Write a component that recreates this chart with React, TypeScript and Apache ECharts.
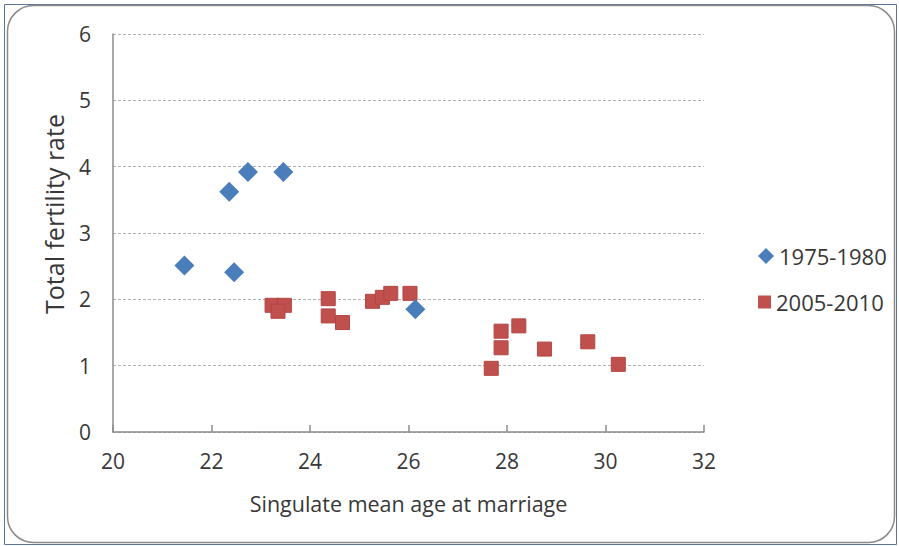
import React, { useEffect, useRef } from "react";
import * as echarts from "echarts";

// Singulate mean age at marriage (x) vs total fertility rate (y)
const period1Name = "1975-1980";
const period1Ages = [21.45, 22.36, 22.74, 23.46, 22.46, 26.14];
const period1Tfr = [2.51, 3.62, 3.92, 3.92, 2.41, 1.85];

const period2Name = "2005-2010";
const period2Ages = [23.23, 23.48, 23.35, 24.37, 24.37, 24.66, 25.27, 25.47, 25.64, 26.03, 27.88, 28.24, 27.88, 27.68, 28.76, 29.64, 30.26];
const period2Tfr = [1.91, 1.91, 1.82, 2.01, 1.75, 1.65, 1.97, 2.03, 2.09, 2.09, 1.52, 1.6, 1.27, 0.96, 1.25, 1.36, 1.02];

const xTitle = "Singulate mean age at marriage";
const yTitle = "Total fertility rate";

const FONT = "'Open Sans', 'Noto Sans', sans-serif";
const TEXT = "#383838";
const BLUE = "#4a7ebb";
const RED = "#c0504d";

const zip = (xs: number[], ys: number[]) => xs.map((x, i) => [x, ys[i]]);

const legendBase = {
  orient: "vertical",
  left: 753,
  textStyle: { fontSize: 22, color: TEXT, fontFamily: FONT },
};

export default function App() {
  const ref = useRef<HTMLDivElement>(null);

  useEffect(() => {
    if (!ref.current) return;
    const chart = echarts.init(ref.current, undefined, { renderer: "svg" });
    chart.setOption({
      animation: false,
      backgroundColor: "#ffffff",
      textStyle: { fontFamily: FONT },
      grid: { left: 113, right: 195, top: 34, bottom: 114 },
      xAxis: {
        type: "value",
        min: 20,
        max: 32,
        interval: 2,
        name: xTitle,
        nameLocation: "middle",
        nameGap: 60,
        nameTextStyle: { fontSize: 21.5, color: TEXT, fontFamily: FONT },
        axisLine: { show: true, onZero: false, lineStyle: { color: "#8c8c8c", width: 1.5 } },
        axisTick: { show: true, inside: true, length: 7, lineStyle: { color: "#8c8c8c", width: 1.5 } },
        axisLabel: { fontSize: 21, color: TEXT, margin: 18, fontFamily: FONT },
        splitLine: { show: false },
      },
      yAxis: {
        type: "value",
        min: 0,
        max: 6,
        interval: 1,
        axisLine: { show: true, lineStyle: { color: "#8c8c8c", width: 1.5 } },
        axisTick: { show: false },
        axisLabel: { fontSize: 21, color: TEXT, margin: 22, fontFamily: FONT },
        splitLine: { show: true, lineStyle: { color: "#b0b0b0", type: [3, 2], width: 1.2 } },
      },
      legend: [
        {
          ...legendBase,
          top: 240,
          itemWidth: 16,
          itemHeight: 16,
          data: [{ name: period1Name, icon: "diamond" }],
        },
        {
          ...legendBase,
          top: 286,
          itemWidth: 13,
          itemHeight: 13,
          data: [{ name: period2Name, icon: "rect", itemStyle: { borderWidth: 0 } }],
        },
      ],
      series: [
        {
          name: period1Name,
          type: "scatter",
          symbol: "diamond",
          symbolSize: [20, 20],
          itemStyle: { color: BLUE, opacity: 1 },
          data: zip(period1Ages, period1Tfr),
          z: 3,
        },
        {
          name: period2Name,
          type: "scatter",
          symbol: "rect",
          symbolSize: 14,
          itemStyle: { color: RED, borderColor: "#b34542", borderWidth: 1, opacity: 1 },
          data: zip(period2Ages, period2Tfr),
          z: 2,
        },
      ],
      graphic: [
        {
          type: "rect",
          shape: { x: 4.5, y: 4.5, width: 892, height: 540 },
          style: { fill: "none", stroke: "#5a7896", lineWidth: 1 },
          z: 0,
        },
        {
          type: "rect",
          shape: { x: 7.5, y: 5.5, width: 887, height: 537, r: 26 },
          style: { fill: "none", stroke: "#8a8a8a", lineWidth: 1.5 },
          z: 0,
        },
        {
          type: "text",
          x: 54,
          y: 214,
          rotation: Math.PI / 2,
          style: {
            text: yTitle,
            fontSize: 25,
            fontFamily: FONT,
            fill: TEXT,
            align: "center",
            verticalAlign: "middle",
          },
        },
      ],
    });
    return () => chart.dispose();
  }, []);

  return (
    <div
      ref={ref}
      style={{ position: "fixed", left: 0, top: 0, width: 899, height: 546 }}
    />
  );
}
